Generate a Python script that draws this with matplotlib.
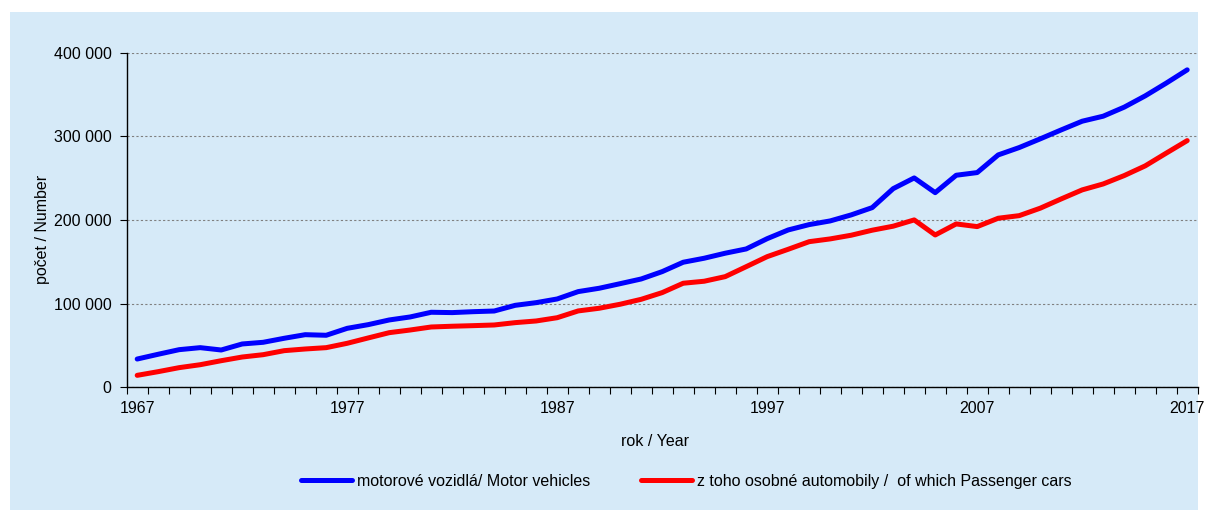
import matplotlib
matplotlib.use("Agg")
import matplotlib.pyplot as plt
from matplotlib.patches import Rectangle
from matplotlib.ticker import FuncFormatter, MultipleLocator

plt.rcParams['font.family'] = ['Liberation Sans', 'DejaVu Sans']

years = list(range(1967, 2018))
motor_vehicles = [
    33.8, 39.5, 45.0, 47.4, 44.6, 51.8, 53.8, 58.6, 62.9, 62.2,
    70.5, 74.9, 80.5, 84.1, 89.7, 89.3, 90.4, 91.2, 98.0, 101.2,
    105.6, 114.4, 118.4, 123.9, 129.5, 138.3, 149.5, 154.3, 160.3, 165.4,
    177.7, 188.1, 194.5, 198.9, 206.1, 214.8, 237.5, 250.3, 232.7, 253.5,
    256.7, 277.8, 286.6, 297.0, 307.7, 318.1, 324.1, 334.9, 348.4, 363.6,
    379.5,
]
passenger_cars = [
    14.3, 18.7, 23.5, 27.0, 31.8, 36.2, 39.0, 43.8, 45.8, 47.4,
    52.6, 59.0, 65.3, 68.5, 72.1, 73.0, 73.7, 74.5, 77.3, 79.3,
    83.2, 91.3, 94.5, 99.3, 105.2, 113.2, 124.4, 126.8, 132.3, 144.2,
    156.2, 165.0, 174.1, 177.4, 181.8, 187.8, 192.6, 200.1, 182.1, 195.3,
    192.1, 202.1, 205.2, 214.1, 225.2, 236.0, 243.1, 253.1, 264.7, 279.9,
    294.9,
]
motor_vehicles = [v * 1000 for v in motor_vehicles]
passenger_cars = [v * 1000 for v in passenger_cars]

label_motor = "motorové vozidlá/ Motor vehicles"
label_cars = "z toho osobné automobily /  of which Passenger cars"

bg = '#D6EAF8'

fig = plt.figure(figsize=(12.08, 5.11), dpi=100)
fig.patches.append(Rectangle((10 / 1208, 1 / 511), 1188 / 1208, 498 / 511,
                             transform=fig.transFigure, facecolor=bg,
                             edgecolor='none', zorder=-10))

ax = fig.add_axes([126.7 / 1208, 1 - 387.3 / 511, 1071 / 1208, 334.6 / 511])
ax.set_facecolor(bg)

x = list(range(len(years)))
ax.plot(x, motor_vehicles, color='#0000FF', lw=3.6, label=label_motor,
        solid_capstyle='round', solid_joinstyle='round')
ax.plot(x, passenger_cars, color='#FF0000', lw=3.6, label=label_cars,
        solid_capstyle='round', solid_joinstyle='round')

ax.set_xlim(-0.5, len(years) - 0.5)
ax.set_ylim(0, 400000)

ax.set_xticks(x[::10])
ax.set_xticklabels([str(y) for y in years[::10]])
ax.xaxis.set_minor_locator(MultipleLocator(1, offset=0.5))
ax.tick_params(axis='x', which='major', length=0, pad=10, labelsize=11.5)
ax.tick_params(axis='x', which='minor', length=5, width=0.8, direction='out')

ax.yaxis.set_major_locator(MultipleLocator(100000))
ax.yaxis.set_major_formatter(FuncFormatter(lambda v, p: f"{int(v):,}".replace(",", " ")))
ax.tick_params(axis='y', length=5, width=0.8, pad=6, labelsize=11.5)

ax.grid(axis='y', linestyle=(0, (2, 2)), color='#808080', lw=0.8)
ax.set_axisbelow(True)

for s in ['top', 'right']:
    ax.spines[s].set_visible(False)
for s in ['left', 'bottom']:
    ax.spines[s].set_linewidth(1.0)
    ax.spines[s].set_color('black')

fig.text(655 / 1208, 1 - 441 / 511, "rok / Year", ha='center', va='center', fontsize=11.5)
fig.text(42 / 1208, 1 - 229 / 511, "počet / Number", ha='center', va='center',
         rotation=90, fontsize=11.5)

fig.legend(loc='center', bbox_to_anchor=(686 / 1208, 1 - 481 / 511), ncol=2,
           frameon=False, fontsize=11.5, handlelength=3.2, handletextpad=0.3,
           columnspacing=3.2)

fig.savefig("out.png", dpi=100)
